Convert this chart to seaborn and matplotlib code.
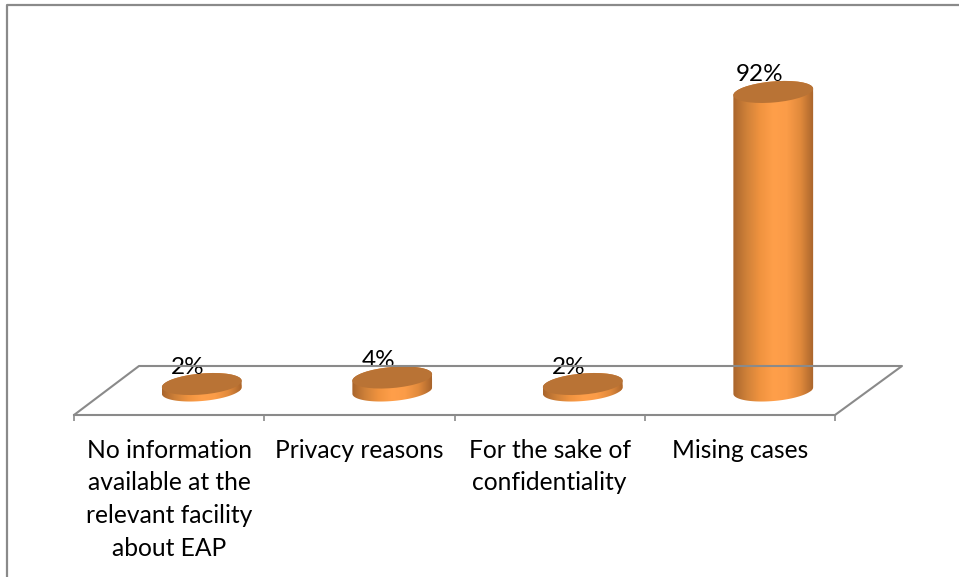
import matplotlib
matplotlib.use('Agg')
import matplotlib.pyplot as plt
import numpy as np
import seaborn as sns
from matplotlib.colors import LinearSegmentedColormap
from matplotlib.lines import Line2D
from matplotlib.patches import Ellipse
from matplotlib.path import Path
from matplotlib.transforms import IdentityTransform, ScaledTranslation

categories = ['No information\navailable at the\nrelevant facility\nabout EAP',
              'Privacy reasons',
              'For the sake of\nconfidentiality',
              'Mising cases']
values = [2, 4, 2, 92]
value_labels = ['2%', '4%', '2%', '92%']

W, H = 959, 577
GREY = '#8a8a8a'
TOP_COLOR = '#b97335'
RX, RY, TILT = 40, 10.5, 5  # cylinder end ellipses, in pixels

sns.set_theme(style='white')
plt.rcParams['font.family'] = ['Lato', 'DejaVu Sans']

side_cmap = LinearSegmentedColormap.from_list(
    'side', ['#a9652c', '#cf8139', '#f0933f', '#ff9f4a', '#fb9c48', '#e18a3c', '#a8642c'])


def fx(px):
    return px / W


def fy(py):
    return 1 - py / H


def ellipse_points(cx, cy, start, stop):
    t = np.radians(np.linspace(start, stop, 60))
    a = np.radians(TILT)
    x = RX * np.cos(t)
    y = RY * np.sin(t)
    return np.column_stack([cx + x * np.cos(a) - y * np.sin(a),
                            cy + x * np.sin(a) + y * np.cos(a)])


fig = plt.figure(figsize=(W / 100, H / 100), dpi=100)

# outer chart frame, runs off the image on the right and bottom
fig.add_artist(Line2D([fx(7), fx(7), fx(W + 5)], [fy(H + 5), fy(5), fy(5)], color=GREY, lw=1.6))

# floor: front edge carries the category axis
floor_ax = fig.add_axes([fx(74), fy(415), fx(835 - 74), 0.001])
floor_ax.set_xlim(-0.5, 3.5)
floor_ax.set_yticks([])
floor_ax.patch.set_visible(False)
for side in ['top', 'left', 'right']:
    floor_ax.spines[side].set_visible(False)
floor_ax.spines['bottom'].set_color(GREY)
floor_ax.spines['bottom'].set_linewidth(1.5)
floor_ax.set_xticks(np.arange(len(categories) + 1) - 0.5)
floor_ax.set_xticklabels([])
floor_ax.tick_params(axis='x', which='major', bottom=True, length=4.5, width=1.2, color=GREY)
floor_ax.set_xticks(np.arange(len(categories)), minor=True)
floor_ax.set_xticklabels(categories, minor=True, fontsize=17.7, color='black', linespacing=1.52)
floor_ax.tick_params(axis='x', which='minor', bottom=False, length=0, pad=17)

fig.add_artist(Line2D([fx(74), fx(139), fx(902), fx(835)],
                      [fy(415), fy(366), fy(366), fy(415)], color=GREY, lw=1.5))

# bars live on the mid-depth plane of the floor
PX_PER_UNIT = 3.245
y_low, y_high = -8, 100
bar_ax = fig.add_axes([fx(106.5), fy(390.5 - y_low * PX_PER_UNIT),
                       fx(762), (y_high - y_low) * PX_PER_UNIT / H])
sns.barplot(x=list(range(len(values))), y=values, ax=bar_ax, color='#f0933f',
            width=RX * 2 / (762 / 4), saturation=1)
bars = list(bar_ax.patches)
bar_ax.set_xlim(-0.5, 3.5)
bar_ax.set_ylim(y_low, y_high)
bar_ax.axis('off')

gradient = np.linspace(0, 1, 256).reshape(1, -1)
for bar, value, label in zip(bars, values, value_labels):
    xc = bar.get_x() + bar.get_width() / 2
    x0, y0 = bar_ax.transData.transform((xc, 0))
    x1, y1 = bar_ax.transData.transform((xc, value))
    outline = np.vstack([ellipse_points(x0, y0, 180, 360),
                         ellipse_points(x1, y1, 0, 180)])
    clip = Path(np.vstack([outline, outline[:1]]), closed=True)
    bar.set_clip_path(clip, IdentityTransform())
    im = bar_ax.imshow(gradient, cmap=side_cmap, aspect='auto', zorder=3,
                       extent=[bar.get_x(), bar.get_x() + bar.get_width(), y_low, value + 5])
    im.set_clip_path(clip, IdentityTransform())
    top = Ellipse((0, 0), RX * 2, RY * 2, angle=TILT, facecolor=TOP_COLOR, edgecolor='none', zorder=4,
                  transform=ScaledTranslation(xc, value, bar_ax.transData))
    bar_ax.add_artist(top)
    bar_ax.annotate(label, (xc, value), xytext=(-14, 17), textcoords='offset pixels',
                    ha='center', va='center', fontsize=17.5, color='black', zorder=5)

bar_ax.set_xlim(-0.5, 3.5)
bar_ax.set_ylim(y_low, y_high)

fig.savefig('out.png', dpi=100, facecolor='white')
